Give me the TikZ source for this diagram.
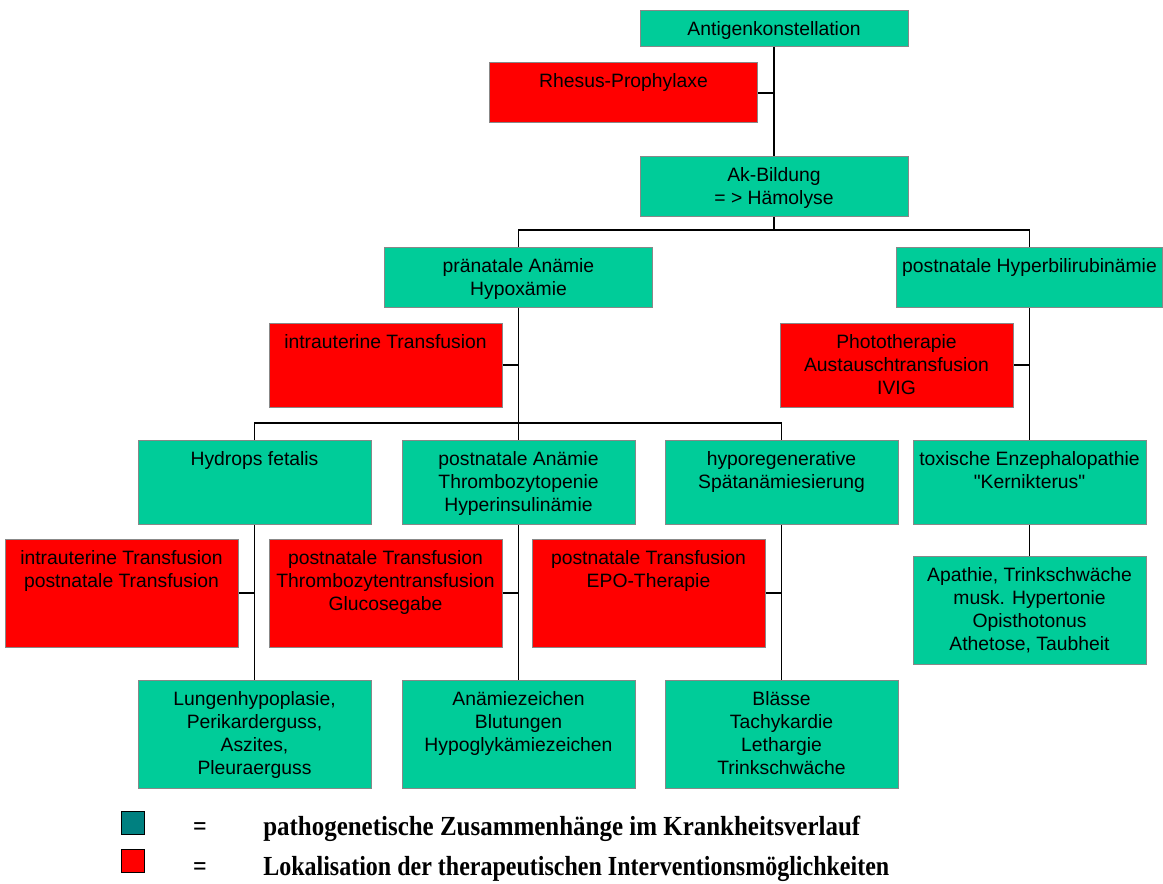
\documentclass[tikz,border=0pt]{standalone}
\usepackage{fontspec}
\setmainfont{Liberation Sans}
\newfontfamily\legendfont{Liberation Serif}
\usetikzlibrary{positioning}
\definecolor{pathgreen}{RGB}{0,204,153}
\definecolor{therared}{RGB}{255,0,0}
\definecolor{legteal}{RGB}{0,128,128}
\definecolor{framegray}{RGB}{136,136,136}
% lines of a box, first baseline on top
\newcommand{\boxlines}[1]{\begin{tabular}[t]{@{}c@{}}#1\end{tabular}}

\begin{document}
\begin{tikzpicture}[x=0.75pt, y=-0.75pt,
    box/.style={rectangle, draw=framegray, line width=0.75pt, inner xsep=2pt, inner ysep=0pt, text height=18.75pt, font=\fontsize{14.5}{17.25}\selectfont},
    greenbox/.style={box, fill=pathgreen},
    redbox/.style={box, fill=therared},
    wide/.style={minimum width=201pt},
    narrow/.style={minimum width=174.75pt},
    h36/.style={text depth=8.25pt},
    h60/.style={text depth=26.25pt},
    h84/.style={text depth=44.25pt},
    h108/.style={text depth=62.25pt},
    link/.style={line width=0.9pt},
    legsq/.style={draw=black, line width=0.8pt, minimum size=17pt, inner sep=0pt},
    legtext/.style={font=\legendfont\bfseries\fontsize{18}{20}\selectfont, inner sep=0pt}
]
\useasboundingbox[fill=white] (0,0) rectangle (1163,884);

% stem
\node[greenbox, wide, h36, anchor=north] (antigen) at (774,10) {Antigenkonstellation};
\node[greenbox, wide, h60, below=81.75pt of antigen] (akbild) {\boxlines{Ak-Bildung\\= > Hämolyse}};
\coordinate (jrh) at (antigen.south |- 0,93);
\node[redbox, wide, h60, left=12pt of jrh] (rhesus) {Rhesus-Prophylaxe};

% first split
\node[greenbox, wide, h60, anchor=north] (praenatal) at (518.5,247) {\boxlines{pränatale Anämie\\Hypoxämie}};
\node[greenbox, minimum width=199.5pt, h60, anchor=north] (posthyp) at (1029.5,247) {postnatale Hyperbilirubinämie};
\coordinate (bus1) at (0,230);

\coordinate (jit) at (praenatal.south |- 0,365);
\node[redbox, narrow, h84, left=12pt of jit] (intraut) {intrauterine Transfusion};
\coordinate (jph) at (posthyp.south |- 0,365);
\node[redbox, narrow, h84, left=12pt of jph] (photo) {\boxlines{Phototherapie\\Austauschtransfusion\\IVIG}};

% second split
\node[greenbox, narrow, h84, below=99pt of praenatal] (postan) {\boxlines{postnatale Anämie\\Thrombozytopenie\\Hyperinsulinämie}};
\node[greenbox, narrow, h84, left=22.5pt of postan] (hydrops) {Hydrops fetalis};
\node[greenbox, narrow, h84, right=21.75pt of postan] (hyporeg) {\boxlines{hyporegenerative\\Spätanämiesierung}};
\node[greenbox, narrow, h84, below=99pt of posthyp] (toxenz) {\boxlines{toxische Enzephalopathie\\\textquotedbl Kernikterus\textquotedbl}};
\coordinate (bus2) at (0,423);

% therapies
\coordinate (jhy) at (hydrops.south |- 0,593);
\node[redbox, narrow, h108, left=12pt of jhy] (hytrans) {\boxlines{intrauterine Transfusion\\postnatale Transfusion}};
\coordinate (jpa) at (postan.south |- 0,593);
\node[redbox, narrow, h108, left=12pt of jpa] (patrans) {\boxlines{postnatale Transfusion\\Thrombozytentransfusion\\Glucosegabe}};
\coordinate (jhr) at (hyporeg.south |- 0,593);
\node[redbox, narrow, h108, left=12pt of jhr] (epo) {\boxlines{postnatale Transfusion\\EPO-Therapie}};

% symptoms
\node[greenbox, narrow, h108, below=116.25pt of hydrops] (lungen) {\boxlines{Lungenhypoplasie,\\Perikarderguss,\\Aszites,\\Pleuraerguss}};
\node[greenbox, narrow, h108, below=116.25pt of postan] (anzeich) {\boxlines{Anämiezeichen\\Blutungen\\Hypoglykämiezeichen}};
\node[greenbox, narrow, h108, below=116.25pt of hyporeg] (blaesse) {\boxlines{Blässe\\Tachykardie\\Lethargie\\Trinkschwäche}};
\node[greenbox, narrow, h108, below=23.25pt of toxenz] (apathie) {\boxlines{Apathie, Trinkschwäche\\musk. Hypertonie\\Opisthotonus\\Athetose, Taubheit}};

% connectors
\draw[link] (antigen.south) -- (akbild.north);
\draw[link] (rhesus.east) -- (jrh);
\draw[link] (akbild.south) -- (akbild.south |- bus1);
\draw[link] (praenatal.north) |- (posthyp.north |- bus1) -- (posthyp.north);
\draw[link] (praenatal.south) -- (postan.north);
\draw[link] (intraut.east) -- (jit);
\draw[link] (posthyp.south) -- (toxenz.north);
\draw[link] (photo.east) -- (jph);
\draw[link] (hydrops.north) |- (hyporeg.north |- bus2) -- (hyporeg.north);
\draw[link] (hydrops.south) -- (lungen.north);
\draw[link] (postan.south) -- (anzeich.north);
\draw[link] (hyporeg.south) -- (blaesse.north);
\draw[link] (toxenz.south) -- (apathie.north);
\draw[link] (hytrans.east) -- (jhy);
\draw[link] (patrans.east) -- (jpa);
\draw[link] (epo.east) -- (jhr);

% legend
\node[legsq, fill=legteal] (sqpath) at (133,823) {};
\node[legsq, fill=therared] (sqther) at (133,861) {};
\node[legtext, anchor=base] (eqpath) at (200,835) {\scalebox{1}[1.15]{=}};
\node[legtext, anchor=base] (eqther) at (200,875) {\scalebox{1}[1.15]{=}};
\node[legtext, anchor=base west] (lgpath) at (263,835) {\scalebox{1.04}[1.15]{pathogenetische Zusammenhänge im Krankheitsverlauf}};
\node[legtext, anchor=base west] (lgther) at (263,875) {\scalebox{1}[1.15]{Lokalisation der therapeutischen Interventionsmöglichkeiten}};
\end{tikzpicture}
\end{document}
